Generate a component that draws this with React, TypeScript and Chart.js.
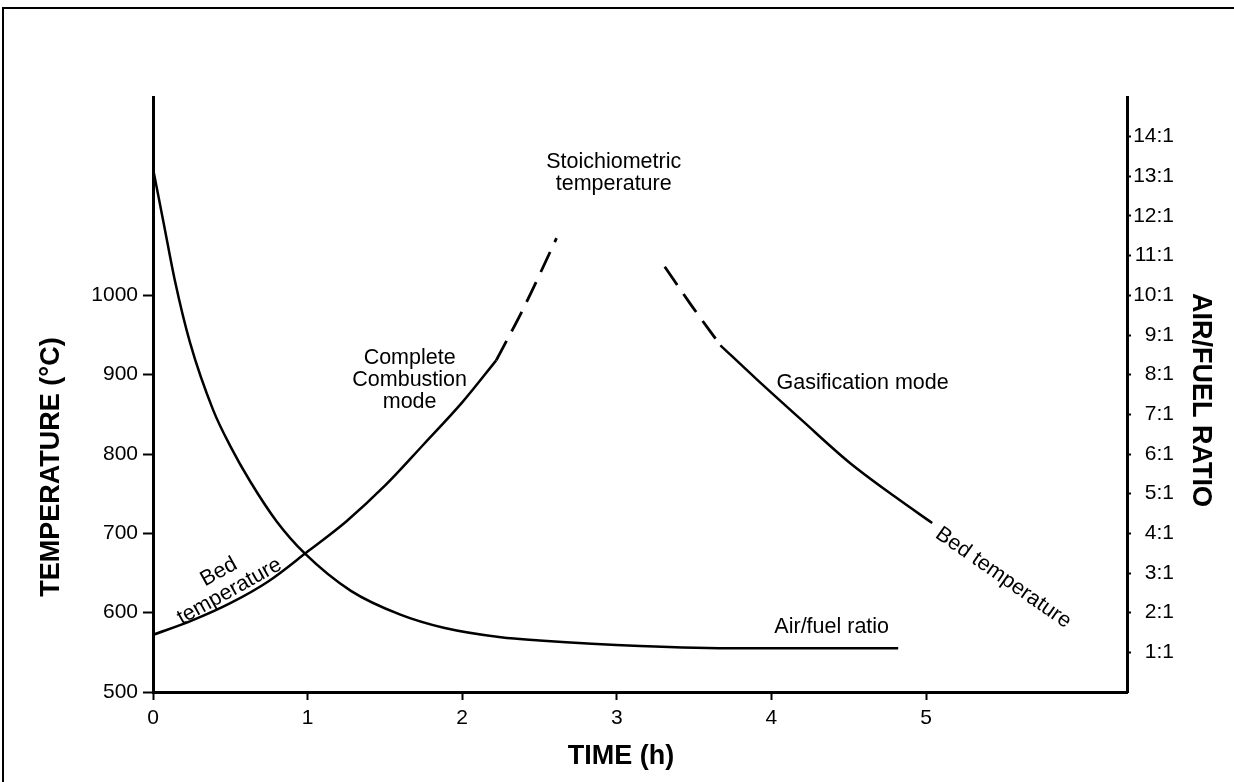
import React, { useEffect, useRef } from 'react';
import { Chart, registerables } from 'chart.js';

Chart.register(...registerables);

// ---------- data ----------
const timeTicks = [0, 1, 2, 3, 4, 5];
const tempTicks = [500, 600, 700, 800, 900, 1000];
const ratioTicks = [1, 2, 3, 4, 5, 6, 7, 8, 9, 10, 11, 12, 13, 14];

const airFuelTime = [0, 0.07, 0.14, 0.24, 0.39, 0.5, 0.63, 0.8, 0.98, 1.28, 1.6, 1.88, 2.25, 2.5, 3.15, 3.8, 4.82];
const airFuelRatio = [13.2, 11.8, 10.4, 8.8, 7.1, 6.2, 5.3, 4.3, 3.5, 2.55, 1.95, 1.62, 1.38, 1.3, 1.16, 1.1, 1.1];

const combustionTime = [0, 0.25, 0.5, 0.75, 1.0, 1.25, 1.5, 1.75, 2.0, 2.22];
const combustionTemp = [572, 590, 612, 640, 677, 715, 760, 812, 865, 918];

const combustionDashTime = [2.22, 2.4, 2.61];
const combustionDashTemp = [918, 985, 1072];

const gasDashTime = [3.31, 3.48, 3.67];
const gasDashTemp = [1036, 988, 937];

const gasTime = [3.67, 3.9, 4.2, 4.5, 4.8, 5.04];
const gasTemp = [937, 895, 842, 790, 746, 713];

const noteTexts = [
  ['Stoichiometric', 'temperature'],
  ['Complete', 'Combustion', 'mode'],
  ['Gasification mode'],
  ['Air/fuel ratio'],
  ['Bed', 'temperature'],
  ['Bed temperature'],
];
const noteTime = [2.98, 1.66, 4.59, 4.39, 0.46, 5.5];
const noteTemp = [1154, 893, 889, 582, 639, 644];
const noteAngle = [0, 0, 0, 0, -29, 35];

const xTitle = 'TIME (h)';
const yTitle = 'TEMPERATURE (°C)';
const y2Title = 'AIR/FUEL RATIO';

const FONT = '"Liberation Sans", Arial, Helvetica, sans-serif';

const zip = (xs: number[], ys: number[]) => xs.map((x, i) => ({ x, y: ys[i] }));

const textPlugin = {
  id: 'textPlugin',
  beforeDraw(chart: any) {
    const ctx = chart.ctx;
    ctx.save();
    ctx.fillStyle = '#fff';
    ctx.fillRect(0, 0, chart.width, chart.height);
    ctx.strokeStyle = '#000';
    ctx.lineWidth = 2;
    ctx.beginPath();
    ctx.moveTo(3, chart.height);
    ctx.lineTo(3, 8);
    ctx.lineTo(chart.width, 8);
    ctx.stroke();
    ctx.restore();
  },
  afterDraw(chart: any) {
    const ctx = chart.ctx;
    const xs = chart.scales.x;
    const ys = chart.scales.y;
    const ca = chart.chartArea;
    ctx.save();
    ctx.fillStyle = '#000';
    ctx.textAlign = 'center';
    ctx.textBaseline = 'middle';
    // annotations
    ctx.font = `21.5px ${FONT}`;
    noteTexts.forEach((lines, i) => {
      const px = xs.getPixelForValue(noteTime[i]);
      const py = ys.getPixelForValue(noteTemp[i]);
      const lh = 22;
      ctx.save();
      ctx.translate(px, py);
      ctx.rotate((noteAngle[i] * Math.PI) / 180);
      lines.forEach((t, j) => {
        ctx.fillText(t, 0, (j - (lines.length - 1) / 2) * lh);
      });
      ctx.restore();
    });
    // axis titles
    ctx.font = `bold 27px ${FONT}`;
    ctx.save();
    ctx.translate(ca.left - 101, ca.top + 370);
    ctx.rotate(-Math.PI / 2);
    ctx.fillText(yTitle, 0, 0);
    ctx.restore();
    ctx.save();
    ctx.translate(ca.right + 73, ca.top + 303);
    ctx.rotate(Math.PI / 2);
    ctx.fillText(y2Title, 0, 0);
    ctx.restore();
    ctx.fillText(xTitle, ca.left + 468, ca.bottom + 65);
    ctx.restore();
  },
};

export default function App() {
  const ref = useRef<HTMLCanvasElement | null>(null);
  useEffect(() => {
    if (!ref.current) return;
    const lineStyle = {
      borderColor: '#000',
      borderWidth: 2.5,
      pointRadius: 0,
      fill: false,
      cubicInterpolationMode: 'monotone' as const,
    };
    const chart = new Chart(ref.current, {
      type: 'line',
      data: {
        datasets: [
          { ...lineStyle, label: 'Air/fuel ratio', data: zip(airFuelTime, airFuelRatio), yAxisID: 'y2' },
          { ...lineStyle, label: 'Bed temperature (combustion)', data: zip(combustionTime, combustionTemp), yAxisID: 'y' },
          { ...lineStyle, label: 'Bed temperature (combustion, extrapolated)', data: zip(combustionDashTime, combustionDashTemp), yAxisID: 'y', borderDash: [22, 11], borderWidth: 2.8 },
          { ...lineStyle, label: 'Bed temperature (gasification, extrapolated)', data: zip(gasDashTime, gasDashTemp), yAxisID: 'y', borderDash: [22, 11], borderWidth: 2.8 },
          { ...lineStyle, label: 'Bed temperature (gasification)', data: zip(gasTime, gasTemp), yAxisID: 'y' },
        ],
      },
      options: {
        animation: false,
        responsive: false,
        maintainAspectRatio: false,
        layout: { padding: { top: 97, left: 0, right: 60, bottom: 0 } },
        plugins: { legend: { display: false }, tooltip: { enabled: false } },
        scales: {
          x: {
            type: 'linear',
            min: 0,
            max: 6.3,
            afterBuildTicks: (s: any) => { s.ticks = timeTicks.map((v) => ({ value: v })); },
            afterFit: (s: any) => { s.height = 90; },
            grid: { drawOnChartArea: false, drawTicks: true, tickLength: 8, tickWidth: 2, tickColor: '#000' },
            border: { display: true, color: '#000', width: 3 },
            ticks: { color: '#000', font: { family: FONT, size: 21 }, padding: 6, maxRotation: 0, autoSkip: false, callback: (v: any) => String(v) },
          },
          y: {
            type: 'linear',
            position: 'left',
            min: 500,
            max: 1250,
            afterBuildTicks: (s: any) => { s.ticks = tempTicks.map((v) => ({ value: v })); },
            afterFit: (s: any) => { s.width = 153; },
            grid: { drawOnChartArea: false, drawTicks: true, tickLength: 10, tickWidth: 2, tickColor: '#000' },
            border: { display: true, color: '#000', width: 3 },
            ticks: { color: '#000', font: { family: FONT, size: 21 }, padding: 5, autoSkip: false, callback: (v: any) => String(v) },
          },
          y2: {
            type: 'linear',
            position: 'right',
            min: 0,
            max: 15,
            afterBuildTicks: (s: any) => { s.ticks = ratioTicks.map((v) => ({ value: v })); },
            afterFit: (s: any) => { s.width = 47; },
            grid: { drawOnChartArea: false, drawTicks: true, tickLength: 4, tickWidth: 2, tickColor: '#000' },
            border: { display: true, color: '#000', width: 3 },
            ticks: {
              color: '#000',
              font: { family: FONT, size: 21 },
              padding: 1,
              crossAlign: 'far',
              autoSkip: false,
              callback: (v: any) => `${v}:1`,
            },
          },
        },
      },
      plugins: [textPlugin],
    } as any);
    return () => chart.destroy();
  }, []);
  return (
    <div style={{ position: 'fixed', left: 0, top: 0, width: 1234, height: 782, background: '#fff' }}>
      <canvas ref={ref} width={1234} height={782} style={{ width: 1234, height: 782, display: 'block' }} />
    </div>
  );
}
